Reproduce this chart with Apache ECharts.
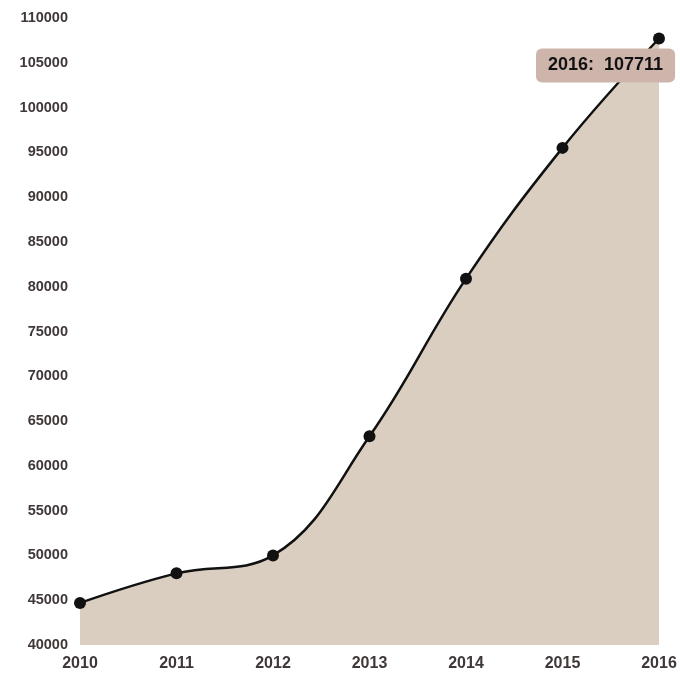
<!DOCTYPE html>
<html><head><meta charset="utf-8">
<script src="https://cdn.jsdelivr.net/npm/echarts@6/dist/echarts.min.js"></script>
<style>html,body{margin:0;padding:0;background:#fff}#c{width:680px;height:675px}</style>
</head><body><div id="c"></div>
<script>
const years = ['2010','2011','2012','2013','2014','2015','2016'];
const values = [44700, 48000, 50000, 63300, 80900, 95500, 107711];
const yMin = 40000, yMax = 110000, yStep = 5000;

const chart = echarts.init(document.getElementById('c'));
const data = values.map((v, i) => i === values.length - 1 ? {
  value: v,
  label: {
    show: true,
    position: [-117, 16],
    formatter: years[i] + ':  ' + v,
    backgroundColor: '#cdb5ab',
    borderRadius: 6,
    padding: [7, 12, 7, 12],
    lineHeight: 20,
    color: '#111',
    fontWeight: 'bold',
    fontSize: 18,
    fontFamily: 'Liberation Sans, Arial, sans-serif'
  }
} : v);
chart.setOption({
  animation: false,
  backgroundColor: '#fff',
  grid: { left: 80, right: 21, top: 18, bottom: 30, containLabel: false },
  xAxis: {
    type: 'category', data: years, boundaryGap: false,
    axisLine: { show: false }, axisTick: { show: false }, splitLine: { show: false },
    axisLabel: { color: '#403838', fontWeight: 'bold', fontSize: 16, margin: 11,
      fontFamily: 'Liberation Sans, Arial, sans-serif' }
  },
  yAxis: {
    type: 'value', min: yMin, max: yMax, interval: yStep,
    axisLine: { show: false }, axisTick: { show: false }, splitLine: { show: false },
    axisLabel: { color: '#403838', fontWeight: 'bold', fontSize: 14.5, margin: 12,
      formatter: v => String(v),
      fontFamily: 'Liberation Sans, Arial, sans-serif' }
  },
  series: [{
    type: 'line', data: data, smooth: 0.4,
    symbol: 'circle', symbolSize: 12,
    itemStyle: { color: '#111' },
    lineStyle: { color: '#111', width: 2.5 },
    areaStyle: { color: '#d9cebf', opacity: 1 }
  }]
});
</script></body></html>
